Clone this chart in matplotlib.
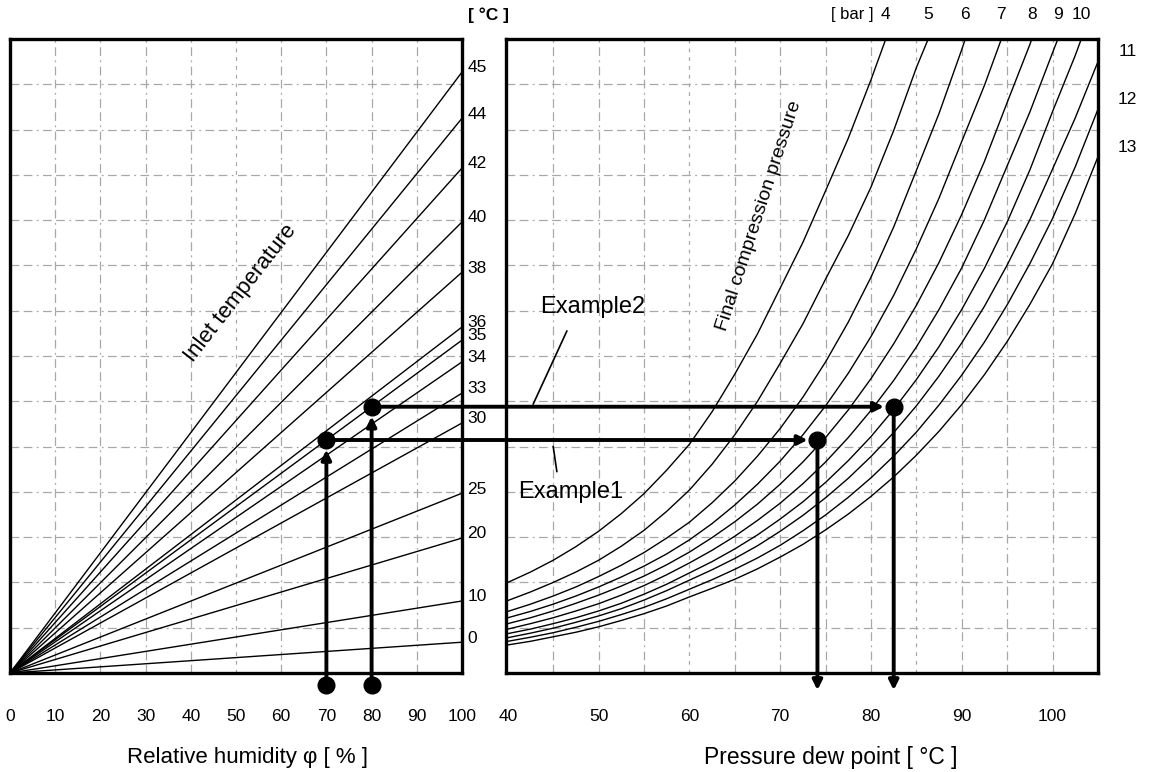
import numpy as np
import matplotlib.pyplot as plt
from matplotlib.patches import ConnectionPatch

plt.rcParams['font.family'] = ['Liberation Sans', 'DejaVu Sans']

# left panel: inlet temperature lines, value reached at 100 % humidity
inlet_temps = [0, 10, 20, 25, 30, 33, 34, 35, 36, 38, 40, 42, 44, 45]
inlet_end = [0.68, 1.59, 2.98, 3.97, 5.52, 6.18, 6.87, 7.35, 7.64, 8.85, 9.96, 11.15, 12.25, 13.27]
rh_ticks = [0, 10, 20, 30, 40, 50, 60, 70, 80, 90, 100]

# right panel: final compression pressure curves (read every 2.5 degC from 40)
dew_t = [40, 42.5, 45, 47.5, 50, 52.5, 55, 57.5, 60, 62.5, 65, 67.5, 70, 72.5,
         75, 77.5, 80, 82.5, 85, 87.5, 90, 92.5, 95, 97.5, 100, 102.5, 105]
pressures = [4, 5, 6, 7, 8, 9, 10, 11, 12, 13]
p4 = [2.0, 2.23, 2.49, 2.79, 3.13, 3.52, 3.96, 4.48, 5.05, 5.77, 6.6, 7.49, 8.5, 9.51,
      10.65, 11.81, 13.1, 14.48, 16.0]
p5 = [1.6, 1.79, 2.0, 2.23, 2.49, 2.8, 3.15, 3.57, 4.04, 4.61, 5.26, 6.0, 6.84, 7.71,
      8.7, 9.66, 10.73, 11.98, 13.37, 14.58, 15.9]
p6 = [1.36, 1.52, 1.70, 1.90, 2.13, 2.38, 2.66, 2.98, 3.33, 3.76, 4.24, 4.79, 5.40, 6.09,
      6.87, 7.75, 8.74, 9.85, 11.1, 12.36, 13.77, 15.26, 16.9]
p7 = [1.22, 1.36, 1.52, 1.70, 1.90, 2.12, 2.36, 2.63, 2.94, 3.30, 3.71, 4.17, 4.68, 5.26,
      5.90, 6.62, 7.43, 8.34, 9.37, 10.49, 11.74, 12.98, 14.35, 15.76, 17.3]
p8 = [1.09, 1.22, 1.37, 1.54, 1.72, 1.92, 2.14, 2.39, 2.67, 2.99, 3.34, 3.73, 4.17, 4.66,
      5.20, 5.81, 6.50, 7.27, 8.12, 9.07, 10.13, 11.30, 12.6, 13.88, 15.3]
p9 = [0.97, 1.09, 1.22, 1.37, 1.53, 1.72, 1.93, 2.17, 2.43, 2.71, 3.02, 3.37, 3.75, 4.18,
      4.66, 5.20, 5.80, 6.46, 7.20, 8.03, 8.95, 10.01, 11.2, 12.39, 13.7, 14.99, 16.4]
p10 = [0.87, 0.97, 1.09, 1.22, 1.37, 1.54, 1.74, 1.96, 2.21, 2.46, 2.74, 3.05, 3.40, 3.78,
       4.21, 4.69, 5.22, 5.82, 6.48, 7.21, 8.03, 8.94, 9.96, 11.11, 12.4, 13.64, 15.0]
p11 = [0.78, 0.88, 0.99, 1.12, 1.26, 1.42, 1.61, 1.82, 2.05, 2.28, 2.53, 2.81, 3.13, 3.48,
       3.87, 4.30, 4.78, 5.31, 5.90, 6.56, 7.29, 8.10, 9.01, 10.01, 11.13, 12.26, 13.5]
p12 = [0.70, 0.79, 0.89, 1.01, 1.14, 1.29, 1.45, 1.64, 1.85, 2.06, 2.29, 2.54, 2.82, 3.14,
       3.49, 3.88, 4.31, 4.79, 5.32, 5.92, 6.58, 7.31, 8.13, 9.04, 10.04, 11.18, 12.45]
p13 = [0.62, 0.70, 0.80, 0.90, 1.02, 1.16, 1.31, 1.48, 1.68, 1.87, 2.07, 2.30, 2.56, 2.84,
       3.16, 3.51, 3.90, 4.33, 4.81, 5.34, 5.93, 6.59, 7.32, 8.14, 9.04, 10.15, 11.4]
curves = [p4, p5, p6, p7, p8, p9, p10, p11, p12, p13]
dew_ticks = [40, 50, 60, 70, 80, 90, 100]

# worked examples: inlet 35 degC at 70 % and 80 %
ex_names = ['Example1', 'Example2']
ex_rh = [70, 80]
ex_temp = 35
ex_dew = [74.1, 82.5]

fig = plt.figure(figsize=(11.52, 7.72), dpi=100)
ax1 = fig.add_axes([10/1152, 99/772, 452/1152, 634/772])
ax2 = fig.add_axes([506/1152, 99/772, 592/1152, 634/772])

gcol = '#a8a8a8'
dash = (0, (7, 3.5, 7, 3.5, 1.5, 3.5))
fine = (0, (3, 4))

for ax in (ax1, ax2):
    ax.set_ylim(0, 14)
    ax.set_yticks([])
    for s in ax.spines.values():
        s.set_linewidth(2.4)
    ax.tick_params(axis='x', length=0, pad=26, labelsize=12.5)
    for yy in range(1, 14):
        ax.axhline(yy, color=gcol, lw=0.9, ls=dash, zorder=0)

ax1.set_xlim(0, 100)
ax1.set_xticks(rh_ticks)
for xx in range(10, 100, 10):
    ax1.axvline(xx, color=gcol, lw=0.9, ls=fine if xx == 50 else dash, zorder=0)

ax2.set_xlim(39.8, 105)
ax2.set_xticks(dew_ticks)
for xx in range(45, 105, 5):
    ax2.axvline(xx, color=gcol, lw=0.9, ls=fine if xx in (60, 85) else dash, zorder=0)

# inlet temperature lines
for t, e in zip(inlet_temps, inlet_end):
    ax1.plot([0, 100], [0, e], color='k', lw=1.0)
    ax1.annotate(str(t), (100, e), xytext=(4, 3), textcoords='offset points',
                 ha='left', va='center', fontsize=12.5, annotation_clip=False)

# pressure curves
for p, vals in zip(pressures, curves):
    tt = dew_t[:len(vals)]
    ax2.plot(tt, vals, color='k', lw=1.0)
    if vals[-1] > 14:
        xc = np.interp(14, vals, tt)
        ax2.annotate(str(p), (xc, 1.038), xycoords=('data', 'axes fraction'),
                     ha='center', va='center', fontsize=12.5, annotation_clip=False)
    else:
        ax2.annotate(str(p), (1.05, vals[-1]), xycoords=('axes fraction', 'data'),
                     xytext=(0, 7), textcoords='offset points',
                     ha='center', va='center', fontsize=12.5, annotation_clip=False)

ax1.text(1.058, 1.038, '[ °C ]', transform=ax1.transAxes, ha='center', va='center',
         fontsize=12.5, fontweight='bold')
ax2.text(0.585, 1.038, '[ bar ]', transform=ax2.transAxes, ha='center', va='center',
         fontsize=12)

ax1.text(50.9, 8.39, 'Inlet temperature', rotation=52, ha='center', va='center', fontsize=16)
ax2.text(67.7, 10.09, 'Final compression pressure', rotation=72, ha='center', va='center',
         fontsize=14)

ax1.text(0.525, -0.133, 'Relative humidity φ [ % ]', transform=ax1.transAxes,
         ha='center', va='center', fontsize=16)
ax2.text(0.548, -0.133, 'Pressure dew point [ °C ]', transform=ax2.transAxes,
         ha='center', va='center', fontsize=16.5)

# example paths
y35 = inlet_end[inlet_temps.index(ex_temp)]
arr = dict(arrowstyle='-|>', lw=2.8, color='k', mutation_scale=14, shrinkA=0)
for rh, td in zip(ex_rh, ex_dew):
    yv = y35 * rh / 100
    ax1.plot(rh, -0.019, 'o', color='k', ms=12, transform=ax1.get_xaxis_transform(),
             clip_on=False, zorder=5)
    ax1.annotate('', xy=(rh, yv), xytext=(rh, -0.27), annotation_clip=False,
                 arrowprops=dict(arr, shrinkB=7))
    ax1.plot(rh, yv, 'o', color='k', ms=12, zorder=5)
    con = ConnectionPatch((rh, yv), (td, yv), 'data', 'data', axesA=ax1, axesB=ax2,
                          arrowstyle='-|>', lw=2.8, color='k', mutation_scale=14,
                          shrinkA=0, shrinkB=7, zorder=4)
    fig.add_artist(con)
    ax2.plot(td, yv, 'o', color='k', ms=12, zorder=5)
    ax2.annotate('', xy=(td, -0.38), xytext=(td, yv), annotation_clip=False,
                 arrowprops=dict(arr, shrinkB=0))

ax2.text(49.3, 8.08, ex_names[1], ha='center', va='center', fontsize=17)
ax2.plot([46.5, 42.8], [7.55, 5.94], color='k', lw=1.2)
ax2.text(46.9, 4.0, ex_names[0], ha='center', va='center', fontsize=17)
ax2.plot([45.4, 45.0], [4.45, 5.0], color='k', lw=1.2)

fig.savefig('out.png', dpi=100)
